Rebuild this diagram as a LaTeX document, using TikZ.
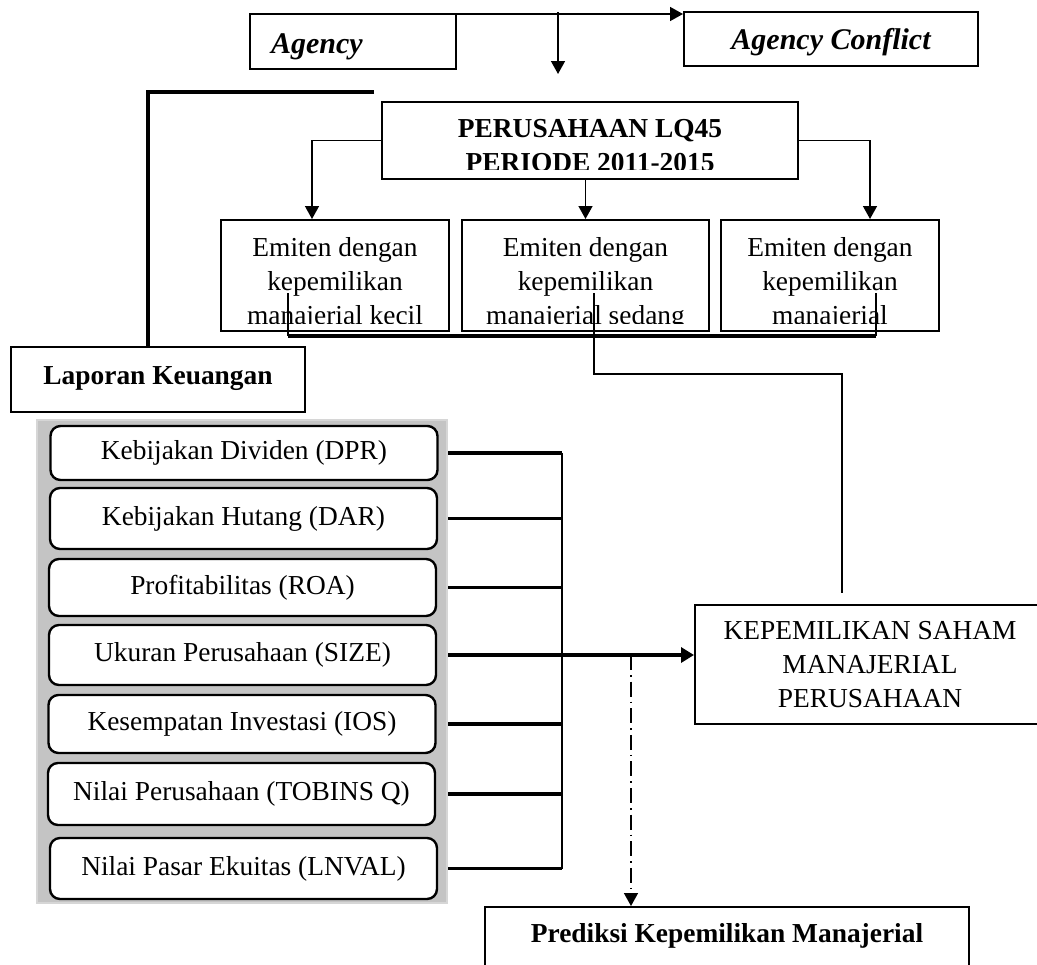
\documentclass[tikz,border=0pt]{standalone}
\usepackage{fontspec}
\setmainfont{Liberation Serif}
\usetikzlibrary{arrows.meta,calc}

\definecolor{panelgray}{RGB}{196,196,196}
\definecolor{panelrim}{RGB}{214,214,214}

\newcommand{\diagfont}{\fontsize{13.7}{17}\selectfont}
\newcommand{\headfont}{\fontsize{15}{18}\selectfont\bfseries\itshape}

\tikzset{
  plainbox/.style={draw, line width=1pt, inner sep=0pt, align=center},
  varbox/.style={draw, line width=1.2pt, rounded corners=5pt, fill=white,
    minimum width=193.5pt, inner sep=0pt},
  thickline/.style={line width=1.7pt},
  thinline/.style={line width=0.65pt},
  arr/.style={line width=0.75pt, -{Triangle[length=6.5pt,width=7pt]}},
}

\begin{document}
\begin{tikzpicture}[x=0.5pt, y=-0.5pt, font=\diagfont]
    \useasboundingbox (0,0) rectangle (1037,964);
    % Agency
    \node[plainbox, anchor=north west, minimum width=103pt, text width=82pt,
      text height=19.5pt, text depth=8pt, align=left, font=\headfont]
      (agency) at (249,13) {Agency};
    \node[plainbox, anchor=north west, minimum width=147pt, text height=18.5pt,
      text depth=8.5pt, font=\headfont] (conflict) at (683,11) {Agency Conflict};
    \coordinate (toparr) at ([yshift=-0.5pt]agency.north east);
    \draw[arr] (toparr) -- (toparr -| conflict.west);
    \coordinate (drop) at (558,12);
    \coordinate (dropend) at (558,74);
    \draw[arr] (drop) -- (dropend);
    % Perusahaan
    \node[plainbox, minimum width=208pt, minimum height=38.5pt] (perus) at (590,140.5) {};
    \begin{scope}
      \clip (perus.north west) rectangle ([yshift=5.5pt]perus.south east);
      \node[align=center, font=\diagfont\bfseries] (perus-t) at (590,145.5)
        {PERUSAHAAN LQ45\\PERIODE 2011-2015};
    \end{scope}
    % Emiten
    \node[plainbox, minimum width=114pt, minimum height=55.5pt] (kecil) at (335,275.5) {};
    \node[plainbox, minimum width=123.5pt, minimum height=55.5pt] (sedang) at (585.5,275.5) {};
    \node[plainbox, minimum width=109pt, minimum height=55.5pt] (besar) at (830,275.5) {};
    \begin{scope}
      \clip (kecil.north west) rectangle ([yshift=4.5pt]besar.south east);
      \node[align=center] (kecil-t) at ($(kecil)+(0,8)$)
        {Emiten dengan\\kepemilikan\\manajerial kecil};
      \node[align=center] (sedang-t) at ($(sedang)+(0,8)$)
        {Emiten dengan\\kepemilikan\\manajerial sedang};
      \node[align=center] (besar-t) at ($(besar)+(0,8)$)
        {Emiten dengan\\kepemilikan\\manajerial};
    \end{scope}
    \draw[arr] (perus.west) -| ($(kecil.north)+(-23,0)$);
    \draw[arr] (perus.south -| sedang.north) -- (sedang.north);
    \draw[arr] (perus.east) -| ($(besar.north)+(40,0)$);
    % Lines under the Emiten boxes
    \coordinate (kecil-l) at (288,293);
    \coordinate (besar-l) at (876,293);
    \coordinate (barl) at (288,336);
    \coordinate (barr) at (876,336);
    \draw[thinline] (kecil-l) -- (barl);
    \draw[thinline] (besar-l) -- (barr);
    \draw[thickline] (barl) -- (barr);
    \coordinate (sedang-l) at (594,293);
    \coordinate (kepbend) at (842,374);
    \coordinate (kepend) at (842,593);
    \draw[thinline] (sedang-l) |- (kepbend) -- (kepend);
    % Laporan Keuangan
    \node[plainbox, anchor=north west, minimum width=147pt, text height=18.5pt,
      text depth=14pt, font=\diagfont\bfseries] (lap) at (10,346) {Laporan Keuangan};
    \coordinate (lapbar) at (374,92);
    \coordinate (lapcorner) at (148,92);
    \draw[thickline] (lapbar) -- (lapcorner) -- (lapcorner |- lap.north);
    % Variables
    \node[draw=panelrim, fill=panelgray, line width=1pt, minimum width=205pt,
      minimum height=241.5pt, inner sep=0pt] (panel) at (242,661.5) {};
    \node[varbox, minimum height=27pt] (dpr) at (244,453) {Kebijakan Dividen (DPR)};
    \node[varbox, minimum height=30.5pt] (dar) at (243.5,518.5) {Kebijakan Hutang (DAR)};
    \node[varbox, minimum height=28.5pt] (roa) at (242.5,587.5) {Profitabilitas (ROA)};
    \node[varbox, minimum height=30pt] (size) at (242.5,655) {Ukuran Perusahaan (SIZE)};
    \node[varbox, minimum height=29pt] (ios) at (242,724) {Kesempatan Investasi (IOS)};
    \node[varbox, minimum height=31pt] (tobin) at (241.5,794) {Nilai Perusahaan (TOBINS Q)};
    \node[varbox, minimum height=30.5pt] (lnval) at (243.5,868.5) {Nilai Pasar Ekuitas (LNVAL)};
    \coordinate (bus) at (562,0);
    \draw[thickline] (panel.east |- dpr) -- (bus |- dpr);
    \draw[thickline] (panel.east |- dar) -- (bus |- dar);
    \draw[thickline] (panel.east |- roa) -- (bus |- roa);
    \draw[thickline] (panel.east |- size) -- (bus |- size);
    \draw[thickline] (panel.east |- ios) -- (bus |- ios);
    \draw[thickline] (panel.east |- tobin) -- (bus |- tobin);
    \draw[thickline] (panel.east |- lnval) -- (bus |- lnval);
    \draw[line width=1pt] (bus |- dpr) -- (bus |- lnval);
    % Kepemilikan saham
    \node[plainbox, minimum width=175pt, minimum height=59.5pt] (kep) at (870,664.5)
      {KEPEMILIKAN SAHAM\\MANAJERIAL\\PERUSAHAAN};
    \draw[thickline, -{Triangle[length=6.5pt,width=7.5pt]}] (bus |- size) -- (size -| kep.west);
    % Prediksi
    \node[plainbox, anchor=north, minimum width=242pt, text height=17.5pt, text depth=30pt,
      font=\diagfont\bfseries] (pred) at (727,906) {Prediksi Kepemilikan Manajerial};
    \coordinate (split) at (631,0);
    \draw[arr, dash pattern=on 7.5pt off 2.5pt on 0.8pt off 2.5pt]
      (split |- size) -- (split |- pred.north);
\end{tikzpicture}
\end{document}
